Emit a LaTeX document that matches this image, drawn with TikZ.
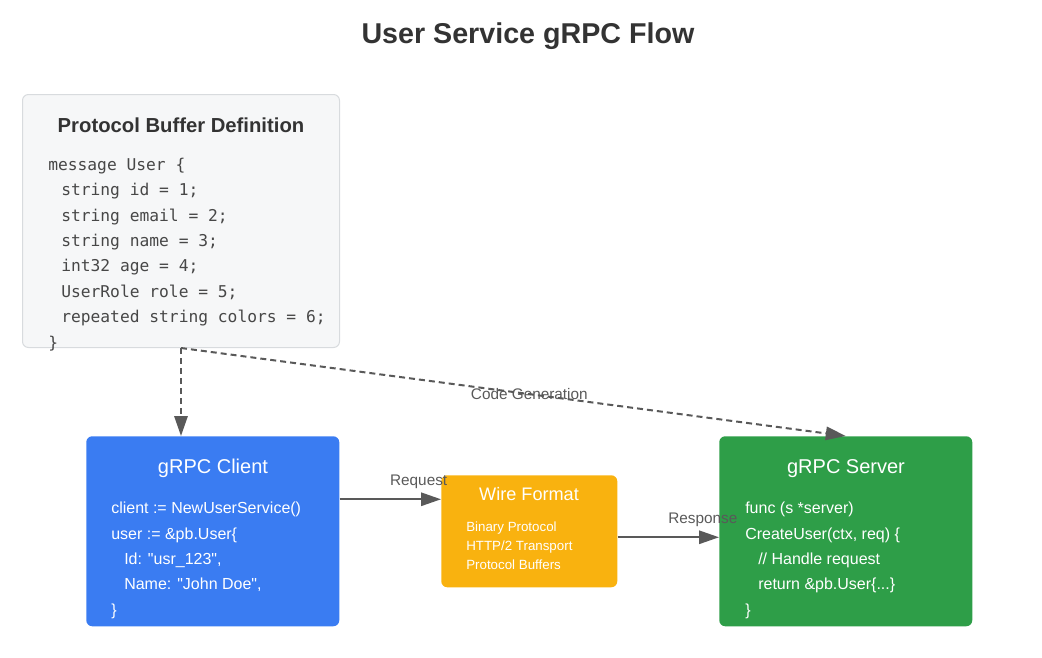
\documentclass[tikz,border=0pt]{standalone}
\usepackage{fontspec}
\setmainfont{Liberation Sans}[Ligatures=TeXOff]
\setmonofont{DejaVu Sans Mono}
\usetikzlibrary{arrows.meta}

\definecolor{titlegray}{HTML}{333333}
\definecolor{codegray}{HTML}{474747}
\definecolor{linegray}{HTML}{595959}
\definecolor{protofill}{HTML}{F6F7F8}
\definecolor{protoline}{HTML}{D8DBDE}
\definecolor{clientblue}{HTML}{3A7CF2}
\definecolor{wireyellow}{HTML}{F9B20F}
\definecolor{servergreen}{HTML}{2E9E48}

\tikzset{
  panel/.style={rounded corners=4.5pt, anchor=north west, inner sep=0pt},
  head/.style={text=white, font=\fontsize{15}{18}\selectfont},
  gocode/.style={text=white, anchor=north west, align=left, inner sep=0pt,
    font=\fontsize{12}{19}\selectfont},
  flow/.style={draw=linegray, line width=1.5pt, -{Triangle[length=15pt,width=10pt]}},
  gen/.style={flow, dash pattern=on 4.5pt off 3pt},
  lbl/.style={text=linegray, font=\fontsize{11.5}{14}\selectfont},
}

\begin{document}
\begin{tikzpicture}[x=0.75pt,y=-0.75pt]
  \useasboundingbox (0,0) rectangle (1042,657);
  \node[text=titlegray, font=\bfseries\fontsize{21.5}{26}\selectfont] (title) at (528,36.5) {User Service gRPC Flow};

  % the four boxes
  \node[panel, fill=protofill, draw=protoline, line width=0.75pt, minimum width=237.75pt, minimum height=189.75pt] (proto) at (22,94) {};
  \node[panel, fill=clientblue, minimum width=189.75pt, minimum height=142.5pt] (client) at (86,436) {};
  \node[panel, fill=wireyellow, minimum width=132pt, minimum height=84pt] (wire) at (441,475) {};
  \node[panel, fill=servergreen, minimum width=189.75pt, minimum height=142.5pt] (server) at (719,436) {};

  % protocol buffer definition
  \node[text=titlegray, font=\bfseries\fontsize{15.2}{18}\selectfont] (protohead) at (181,125.5) {Protocol Buffer Definition};
  \node[anchor=north west, align=left, inner sep=0pt, text=codegray, font=\ttfamily\fontsize{12.2}{19.1}\selectfont] (protocode) at (48,157.5) {%
    message User \{\\
    \hspace*{9.75pt}string id = 1;\\
    \hspace*{9.75pt}string email = 2;\\
    \hspace*{9.75pt}string name = 3;\\
    \hspace*{9.75pt}int32 age = 4;\\
    \hspace*{9.75pt}UserRole role = 5;\\
    \hspace*{9.75pt}repeated string colors = 6;\\
    \}};

  % client
  \node[head] (clienthead) at (213,468.5) {gRPC Client};
  \node[gocode] (clientcode) at (111,502) {%
    client := NewUserService()\\
    user := \&pb.User\{\\
    \hspace*{9.75pt}Id: "usr\_123",\\
    \hspace*{9.75pt}Name: "John Doe",\\
    \}};

  % wire format
  \node[head, font=\fontsize{13.6}{16}\selectfont] (wirehead) at (529,494) {Wire Format};
  \node[gocode, font=\fontsize{10}{14.25}\selectfont] (wirecode) at (466,522) {%
    Binary Protocol\\
    HTTP/2 Transport\\
    Protocol Buffers};

  % server
  \node[head] (serverhead) at (846,468.5) {gRPC Server};
  \node[gocode] (servercode) at (745,502) {%
    func (s *server)\\
    CreateUser(ctx, req) \{\\
    \hspace*{9.75pt}// Handle request\\
    \hspace*{9.75pt}return \&pb.User\{...\}\\
    \}};

  % connectors
  \draw[flow] ([yshift=24pt]client.east) -- node[lbl, pos=0.78, yshift=12.75pt] (request) {Request} ([yshift=24pt]wire.west);
  \draw[flow] ([yshift=-4.5pt]wire.east) -- node[lbl, pos=0.84, yshift=12.75pt] (response) {Response} ([yshift=-4.5pt]server.west);
  \draw[gen] (proto.south) -- (proto.south |- client.north);
  \draw[gen] (proto.south) -- node[lbl, pos=0.524] (codegen) {Code Generation} (server.north);
\end{tikzpicture}
\end{document}
